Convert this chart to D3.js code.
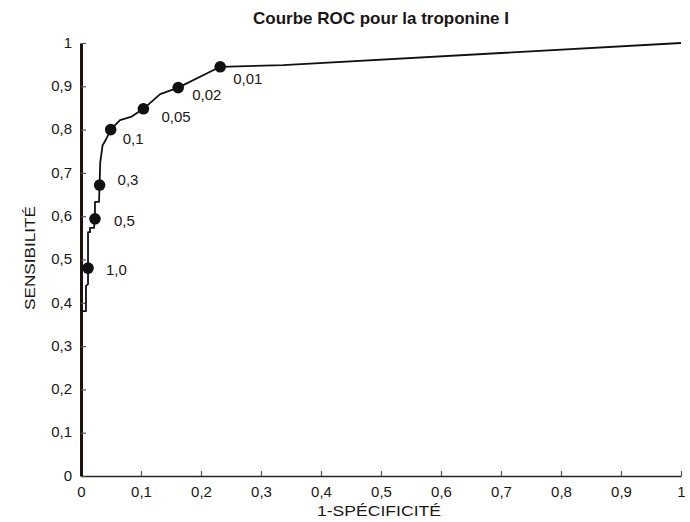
<!DOCTYPE html>
<html>
<head>
<meta charset="utf-8">
<script src="https://cdn.jsdelivr.net/npm/d3@7"></script>
<style>
  body { margin: 0; background: #fff; }
  text { font-family: "Liberation Sans", Arial, sans-serif; fill: #1a1714; }
</style>
</head>
<body>
<div id="chart"></div>
<script>
// courbe ROC : [1-spécificité, sensibilité]
const rocX = [0, 0.0083, 0.0083, 0.0117, 0.0117, 0.0117, 0.015, 0.015, 0.0217, 0.0233, 0.0233, 0.030,
  0.031, 0.032, 0.036, 0.0395, 0.043, 0.0495, 0.065, 0.0845, 0.104, 0.132, 0.162, 0.232, 0.337, 1]
const rocY = [0.381, 0.381, 0.439, 0.443, 0.480, 0.563, 0.563, 0.573, 0.573, 0.594, 0.633, 0.633,
  0.672, 0.723, 0.764, 0.772, 0.781, 0.800, 0.822, 0.830, 0.848, 0.882, 0.897, 0.945, 0.949, 1]

// seuils de troponine (points marqués)
const seuils = ['1,0', '0,5', '0,3', '0,1', '0,05', '0,02', '0,01']
const seuilX = [0.0117, 0.0233, 0.031, 0.0495, 0.104, 0.162, 0.232]
const seuilY = [0.480, 0.594, 0.672, 0.800, 0.848, 0.897, 0.945]
// décalage des étiquettes en pixels
const labelNudge = [[18, 7], [19, 7], [18, 0], [12, 14], [18, 13], [14, 12], [13, 17]]

const ticks = [0, 0.1, 0.2, 0.3, 0.4, 0.5, 0.6, 0.7, 0.8, 0.9, 1]
const fmt = d => d === 0 || d === 1 ? String(d) : String(d).replace('.', ',')

const width = 690, height = 522
const margin = {top: 43, right: 9, bottom: 46, left: 81}

const svg = d3.select('#chart').append('svg')
  .attr('width', width)
  .attr('height', height)

const x = d3.scaleLinear().domain([0, 1]).range([margin.left, width - margin.right])
const y = d3.scaleLinear().domain([0, 1]).range([height - margin.bottom, margin.top])

// axe X
const gx = svg.append('g')
  .attr('transform', `translate(0,${y(0)})`)
  .call(d3.axisBottom(x).tickValues(ticks).tickFormat(fmt).tickSizeInner(-5).tickSizeOuter(0).tickPadding(10))
gx.select('.domain').attr('stroke', '#2a2420').attr('stroke-width', 1.6)
gx.selectAll('.tick line').attr('stroke', '#555').attr('stroke-width', 1.2)
gx.selectAll('.tick text').style('font-size', '15px').attr('fill', '#1a1714')

// axe Y
const gy = svg.append('g')
  .attr('transform', `translate(${x(0)},0)`)
  .call(d3.axisLeft(y).tickValues(ticks).tickFormat(fmt).tickSizeInner(-5).tickSizeOuter(0).tickPadding(9))
gy.select('.domain').attr('stroke', '#1a1410').attr('stroke-width', 3)
gy.selectAll('.tick line').attr('stroke', '#555').attr('stroke-width', 1.2)
gy.selectAll('.tick text').style('font-size', '15px').attr('fill', '#1a1714').attr('dy', '0.28em')

// courbe
const pts = rocX.map((d, i) => [d, rocY[i]])
const line = d3.line().x(d => x(d[0])).y(d => y(d[1]))
svg.append('path')
  .datum(pts)
  .attr('d', line)
  .attr('fill', 'none')
  .attr('stroke', '#111')
  .attr('stroke-width', 1.8)
  .attr('stroke-linejoin', 'round')

// points de seuil
const marks = seuils.map((s, i) => ({s, x: seuilX[i], y: seuilY[i], n: labelNudge[i]}))
svg.append('g').selectAll('circle')
  .data(marks)
  .enter().append('circle')
  .attr('cx', d => x(d.x))
  .attr('cy', d => y(d.y))
  .attr('r', 5.8)
  .attr('fill', '#111')

svg.append('g').selectAll('text')
  .data(marks)
  .enter().append('text')
  .attr('x', d => x(d.x) + d.n[0])
  .attr('y', d => y(d.y) + d.n[1])
  .style('font-size', '15px')
  .text(d => d.s)

// titres
svg.append('text')
  .attr('x', 381).attr('y', 24)
  .attr('text-anchor', 'middle')
  .style('font-size', '17px')
  .style('font-weight', 'bold')
  .text('Courbe ROC pour la troponine I')

svg.append('text')
  .attr('x', 379).attr('y', 516)
  .attr('text-anchor', 'middle')
  .attr('textLength', 124)
  .attr('lengthAdjust', 'spacingAndGlyphs')
  .style('font-size', '15px')
  .text('1-SPÉCIFICITÉ')

svg.append('text')
  .attr('transform', `translate(35,258) rotate(-90)`)
  .attr('text-anchor', 'middle')
  .attr('textLength', 104)
  .attr('lengthAdjust', 'spacingAndGlyphs')
  .style('font-size', '15px')
  .text('SENSIBILITÉ')
</script>
</body>
</html>
